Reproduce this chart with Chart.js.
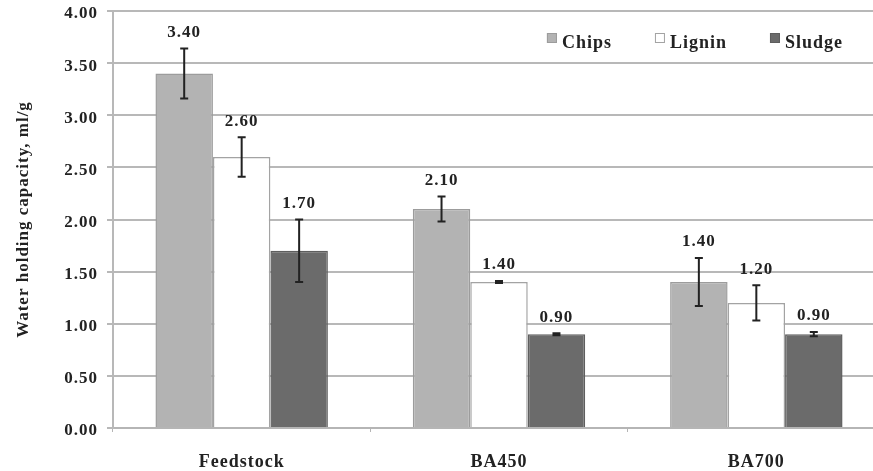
<!DOCTYPE html>
<html>
<head>
<meta charset="utf-8">
<script src="https://cdn.jsdelivr.net/npm/chart.js@4/dist/chart.umd.min.js"></script>
<style>
  html, body { margin: 0; padding: 0; background: #fff; overflow: hidden; }
  #wrap { width: 890px; height: 471px; }
</style>
</head>
<body>
<div id="wrap"><canvas id="chart" width="890" height="471"></canvas></div>
<script>
const categories = ['Feedstock', 'BA450', 'BA700'];
const seriesNames = ['Chips', 'Lignin', 'Sludge'];
const chipsValues = [3.40, 2.10, 1.40];
const ligninValues = [2.60, 1.40, 1.20];
const sludgeValues = [1.70, 0.90, 0.90];
const chipsErrors = [0.24, 0.12, 0.23];
const ligninErrors = [0.19, 0.01, 0.17];
const sludgeErrors = [0.30, 0.01, 0.02];
const yTicks = [0, 0.5, 1, 1.5, 2, 2.5, 3, 3.5, 4];

const serif = "'Liberation Serif', 'Times New Roman', serif";

// the original text is set wide, so spread the letters a bit
const wideText = {
    id: 'wideText',
    beforeDraw(chart) {
        if ('letterSpacing' in chart.ctx) chart.ctx.letterSpacing = '1px';
    }
};

// error bars + value labels on top
const errorBarPlugin = {
    id: 'errorBars',
    afterDatasetsDraw(chart) {
        const ctx = chart.ctx;
        const y = chart.scales.y;
        ctx.save();
        chart.data.datasets.forEach((ds, i) => {
            const meta = chart.getDatasetMeta(i);
            meta.data.forEach((bar, j) => {
                const v = ds.data[j];
                const e = ds.errors[j];
                const top = y.getPixelForValue(v + e);
                const bot = y.getPixelForValue(v - e);
                ctx.strokeStyle = '#222';
                ctx.lineWidth = 2;
                ctx.beginPath();
                ctx.moveTo(bar.x, top); ctx.lineTo(bar.x, bot);
                ctx.moveTo(bar.x - 4, top); ctx.lineTo(bar.x + 4, top);
                ctx.moveTo(bar.x - 4, bot); ctx.lineTo(bar.x + 4, bot);
                ctx.stroke();
                ctx.fillStyle = '#222';
                ctx.font = 'bold 17px ' + serif;
                ctx.textAlign = 'center';
                ctx.textBaseline = 'middle';
                ctx.fillText(v.toFixed(2), bar.x, top - 16);
            });
        });
        ctx.restore();
    }
};

// legend inside the plot, top right
const insideLegend = {
    id: 'insideLegend',
    afterDraw(chart) {
        const ctx = chart.ctx;
        const area = chart.chartArea;
        ctx.save();
        ctx.font = 'bold 18px ' + serif;
        const gap = 43, box = 10, pad = 5;
        const items = chart.data.datasets.map(ds => ({
            label: ds.label, fill: ds.backgroundColor, stroke: ds.borderColor,
            w: box + pad + ctx.measureText(ds.label).width
        }));
        let total = items.reduce((s, it) => s + it.w, 0) + gap * (items.length - 1);
        let x = area.right - 42 - total;
        const yc = 43;
        items.forEach(it => {
            ctx.fillStyle = it.fill;
            ctx.strokeStyle = it.stroke;
            ctx.lineWidth = 1;
            ctx.fillRect(x, yc - 10, box, box);
            ctx.strokeRect(x + 0.5, yc - 9.5, box - 1, box - 1);
            ctx.fillStyle = '#222';
            ctx.textAlign = 'left';
            ctx.textBaseline = 'middle';
            ctx.fillText(it.label, x + box + pad, yc);
            x += it.w + gap;
        });
        ctx.restore();
    }
};

new Chart(document.getElementById('chart'), {
    type: 'bar',
    data: {
        labels: categories,
        datasets: [
            {
                label: seriesNames[0],
                data: chipsValues,
                errors: chipsErrors,
                backgroundColor: '#b3b3b3',
                borderColor: '#9c9c9c',
                borderWidth: 1.5,
            },
            {
                label: seriesNames[1],
                data: ligninValues,
                errors: ligninErrors,
                backgroundColor: '#ffffff',
                borderColor: '#a3a3a3',
                borderWidth: 1.5,
            },
            {
                label: seriesNames[2],
                data: sludgeValues,
                errors: sludgeErrors,
                backgroundColor: '#6b6b6b',
                borderColor: '#5e5e5e',
                borderWidth: 1.5,
            },
        ],
    },
    options: {
        responsive: false,
        animation: false,
        layout: { padding: { top: 11, right: 5, left: 0, bottom: 0 } },
        datasets: {
            bar: { categoryPercentage: 0.67, barPercentage: 1.0 },
        },
        plugins: {
            legend: { display: false },
            tooltip: { enabled: false },
        },
        scales: {
            x: {
                grid: { display: true, drawOnChartArea: false, offset: true, tickLength: 4, color: '#b5b5b5', lineWidth: 1 },
                border: { color: '#b5b5b5', width: 2 },
                ticks: { color: '#222', font: { family: serif, size: 18, weight: 'bold' }, padding: 20 },
                afterFit(scale) { scale.height = 43; },
            },
            y: {
                min: 0,
                max: 4,
                afterBuildTicks(scale) { scale.ticks = yTicks.map(v => ({ value: v })); },
                grid: { color: '#b8b8b8', lineWidth: 2, tickLength: 6 },
                border: { color: '#b8b8b8', width: 2 },
                ticks: {
                    color: '#222',
                    // small lineHeight keeps the top label from pushing the plot down
                    font: { family: serif, size: 17, weight: 'bold', lineHeight: 0.1 },
                    padding: 9,
                    labelOffset: 3,
                    callback: v => Number(v).toFixed(2),
                },
                title: {
                    display: true,
                    text: 'Water holding capacity, ml/g',
                    color: '#222',
                    font: { family: serif, size: 17, weight: 'bold' },
                    padding: { top: 13, bottom: 0 },
                },
                afterFit(scale) { scale.width = 113; },
            },
        },
    },
    plugins: [wideText, errorBarPlugin, insideLegend],
});
</script>
</body>
</html>
